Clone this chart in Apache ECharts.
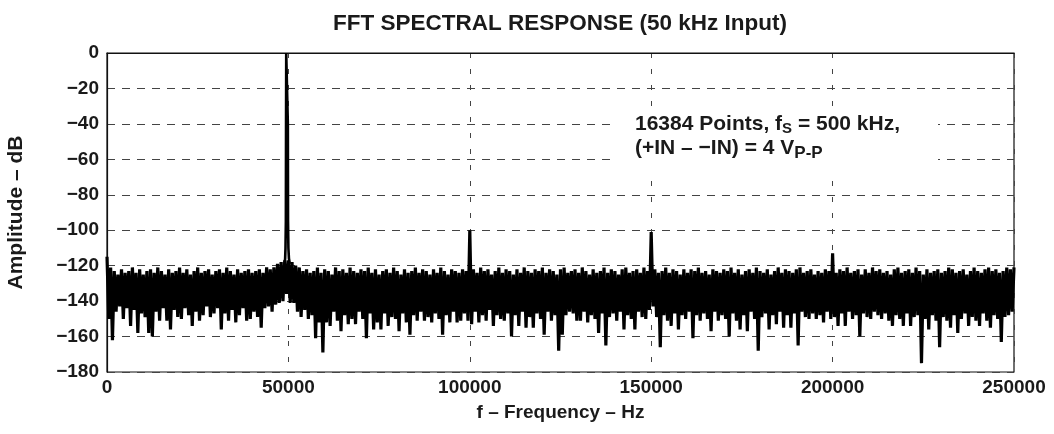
<!DOCTYPE html>
<html>
<head>
<meta charset="utf-8">
<title>FFT Spectral Response</title>
<script src="https://cdn.jsdelivr.net/npm/echarts@6/dist/echarts.min.js"></script>
<style>
  html, body { margin: 0; padding: 0; background: #fff; }
  #chart { width: 1054px; height: 434px; }
</style>
</head>
<body>
<div id="chart"></div>
<script>
// tick labels
const xTicks = [0, 50000, 100000, 150000, 200000, 250000];
const yTicks = [0, -20, -40, -60, -80, -100, -120, -140, -160, -180];

// noise floor, upper edge, one value per 1 kHz from 0 Hz (dB)
const noiseTop = [
  -115, -121, -123, -125, -122, -124, -123, -121, -124, -122,
  -125, -123, -122, -124, -121, -123, -125, -122, -124, -123,
  -121, -124, -122, -125, -123, -121, -124, -123, -122, -125,
  -123, -122, -124, -121, -123, -125, -122, -124, -123, -122,
  -124, -123, -122, -124, -121, -122, -121, -119, -118, -117,
  -117, -118, -120, -121, -123, -122, -124, -123, -121, -124,
  -122, -123, -125, -121, -123, -122, -124, -121, -123, -124,
  -122, -123, -121, -124, -122, -125, -123, -122, -124, -121,
  -123, -125, -122, -124, -123, -121, -124, -122, -123, -125,
  -122, -124, -121, -123, -125, -122, -123, -124, -122, -123,
  -100, -122, -124, -121, -123, -122, -125, -123, -121, -124,
  -122, -123, -125, -122, -124, -121, -123, -124, -122, -123,
  -121, -124, -122, -123, -125, -122, -121, -124, -123, -122,
  -124, -121, -123, -125, -122, -124, -123, -121, -124, -122,
  -123, -125, -122, -121, -124, -123, -122, -124, -121, -123,
  -101, -122, -124, -123, -121, -124, -122, -123, -125, -122,
  -124, -122, -123, -121, -124, -123, -125, -122, -123, -124,
  -122, -123, -121, -124, -122, -125, -123, -122, -124, -121,
  -123, -124, -122, -125, -123, -121, -124, -122, -123, -124,
  -122, -121, -124, -123, -122, -125, -123, -124, -122, -123,
  -113, -124, -122, -123, -121, -124, -123, -122, -125, -122,
  -124, -121, -123, -122, -124, -123, -125, -122, -121, -124,
  -123, -122, -124, -121, -123, -125, -122, -124, -123, -122,
  -124, -123, -121, -122, -124, -123, -122, -125, -123, -121,
  -123, -124, -122, -121, -123, -122, -124, -123, -121, -122,
  -121
];

// noise floor, lower edge, one value per 1 kHz from 500 Hz (dB)
const noiseBottom = [
  -150, -162, -146, -143, -150, -144, -154, -145, -158, -147,
  -149, -158, -160, -146, -151, -144, -151, -156, -145, -149,
  -150, -144, -148, -154, -146, -151, -148, -143, -149, -147,
  -144, -156, -147, -151, -145, -152, -148, -144, -151, -150,
  -146, -149, -155, -144, -143, -146, -142, -141, -140, -136,
  -141, -141, -146, -149, -145, -150, -148, -161, -152, -169,
  -152, -154, -146, -151, -157, -148, -153, -150, -153, -146,
  -150, -161, -147, -156, -152, -156, -147, -154, -149, -150,
  -157, -147, -152, -159, -148, -151, -146, -151, -149, -152,
  -147, -150, -159, -148, -152, -146, -152, -151, -147, -151,
  -153, -146, -152, -148, -151, -145, -154, -148, -150, -151,
  -147, -160, -148, -154, -146, -155, -149, -155, -147, -150,
  -159, -146, -151, -148, -168, -159, -148, -146, -147, -151,
  -151, -146, -152, -148, -150, -158, -147, -165, -149, -147,
  -151, -146, -156, -148, -150, -156, -146, -149, -150, -145,
  -143, -149, -166, -148, -151, -154, -147, -156, -148, -150,
  -146, -161, -148, -151, -147, -150, -157, -146, -151, -148,
  -150, -160, -147, -151, -156, -148, -157, -146, -150, -168,
  -149, -147, -156, -148, -153, -146, -155, -148, -155, -147,
  -165, -146, -149, -150, -147, -150, -148, -152, -146, -150,
  -149, -154, -147, -154, -146, -150, -148, -160, -147, -149,
  -150, -146, -148, -150, -147, -151, -154, -148, -150, -154,
  -147, -154, -149, -148, -175, -150, -156, -148, -151, -166,
  -149, -151, -155, -148, -158, -150, -147, -154, -149, -151,
  -154, -147, -151, -155, -148, -150, -163, -149, -148, -146
];

// fundamental tone near 50 kHz
const peakFreq = [48900, 49100, 49200, 49300, 49350, 49400, 49800, 49850, 49900, 50000, 50150, 50400];
const peakAmp  = [-119, -116, -110, -95, -40, 0, 0, -40, -95, -110, -116, -119];

const binStep = 1000;

let noiseData = [];
for (let i = 0; i < noiseTop.length; i++) {
  noiseData.push([i * binStep, noiseTop[i]]);
  if (i < noiseBottom.length) {
    noiseData.push([i * binStep + binStep / 2, noiseBottom[i]]);
  }
}
let peakData = peakFreq.map((f, i) => [f, peakAmp[i]]);

const font = "Liberation Sans";
const minus = (v) => String(v).replace("-", "\u2212");

const myChart = echarts.init(document.getElementById("chart"));
myChart.setOption({
  animation: false,
  backgroundColor: "#fff",
  title: {
    text: "FFT SPECTRAL RESPONSE (50 kHz Input)",
    left: 555,
    textAlign: "center",
    top: 7,
    textStyle: { fontFamily: font, fontWeight: "bold", fontSize: 22.5, color: "#1a1a1a" },
  },
  grid: {
    left: 107,
    right: 40,
    top: 53,
    bottom: 62,
    outerBoundsMode: "none",
    show: true,
    borderColor: "#111",
    borderWidth: 1.2,
  },
  xAxis: {
    type: "value",
    min: xTicks[0],
    max: xTicks[xTicks.length - 1],
    interval: xTicks[1] - xTicks[0],
    name: "f \u2013 Frequency \u2013 Hz",
    nameLocation: "middle",
    nameGap: 31,
    nameTextStyle: { fontFamily: font, fontWeight: "bold", fontSize: 19, color: "#1a1a1a" },
    axisLine: { show: true, lineStyle: { color: "#111", width: 1.2 } },
    axisTick: { show: false },
    axisLabel: {
      margin: 6,
      fontFamily: font,
      fontWeight: "bold",
      fontSize: 19,
      color: "#1a1a1a",
      formatter: (v) => String(v),
    },
    splitLine: { show: true, lineStyle: { color: "#444", type: [5, 11], width: 1 } },
  },
  yAxis: {
    type: "value",
    min: yTicks[yTicks.length - 1],
    max: yTicks[0],
    interval: yTicks[0] - yTicks[1],
    name: "Amplitude \u2013 dB",
    nameLocation: "middle",
    nameGap: 80,
    nameTextStyle: { fontFamily: font, fontWeight: "bold", fontSize: 21, color: "#1a1a1a" },
    axisLine: { show: true, lineStyle: { color: "#111", width: 1.2 } },
    axisTick: { show: false },
    axisLabel: {
      margin: 8,
      fontFamily: font,
      fontWeight: "bold",
      fontSize: 19,
      color: "#1a1a1a",
      formatter: minus,
    },
    splitLine: { show: true, lineStyle: { color: "#444", type: [8, 7], width: 1 } },
  },
  graphic: [
    {
      type: "rect",
      z: 10,
      shape: { x: 617, y: 108, width: 321, height: 70 },
      style: { fill: "#fff" },
    },
    {
      type: "text",
      z: 11,
      left: 635,
      top: 112,
      style: {
        text: "16384 Points, f{s|S} = 500 kHz,\n(+IN \u2013 \u2212IN) = 4 V{p|P-P}",
        font: "bold 21px " + font,
        fill: "#1a1a1a",
        lineHeight: 24,
        rich: {
          s: { font: "bold 15px " + font, fill: "#1a1a1a", padding: [9, 0, 0, 0], lineHeight: 24 },
          p: { font: "bold 17px " + font, fill: "#1a1a1a", padding: [10, 0, 0, 0], lineHeight: 24 },
        },
      },
    },
  ],
  series: [
    {
      name: "noise",
      type: "line",
      data: noiseData,
      symbol: "none",
      sampling: "none",
      lineStyle: { color: "#000", width: 3.2 },
      z: 3,
    },
    {
      name: "fundamental",
      type: "line",
      data: peakData,
      symbol: "none",
      lineStyle: { color: "#000", width: 2.6 },
      z: 4,
    },
  ],
});
</script>
</body>
</html>
